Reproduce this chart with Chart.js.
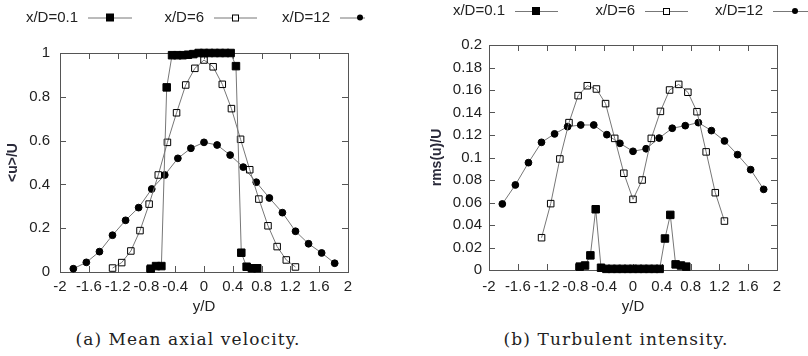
<!DOCTYPE html>
<html lang="en">
<head>
<meta charset="UTF-8">
<title>Jet profiles</title>
<script src="https://cdn.jsdelivr.net/npm/chart.js"></script>
<style>
  body { margin: 0; background: #fff; }
  #wrap { position: relative; width: 808px; height: 356px; overflow: hidden; }
  .panel { position: absolute; top: 0; height: 325px; }
  .cap {
    position: absolute; top: 329px; transform: translateX(-50%);
    font-family: "DejaVu Serif", serif; font-size: 17px; letter-spacing: 1.1px;
    color: #222; white-space: nowrap;
  }
</style>
</head>
<body>
<div id="wrap">
  <div class="panel" style="left:0;width:400px"><canvas id="meanChart"></canvas></div>
  <div class="panel" style="left:400px;width:408px"><canvas id="rmsChart"></canvas></div>
  <div class="cap" style="left:188px">(a) Mean axial velocity.</div>
  <div class="cap" style="left:616px">(b) Turbulent intensity.</div>
</div>
<script>
// y/D positions of each station
const yD01 = [-0.74, -0.666, -0.592, -0.518, -0.444, -0.37, -0.296, -0.222, -0.148, -0.074, 0,
              0.074, 0.148, 0.222, 0.296, 0.37, 0.444, 0.518, 0.592, 0.666, 0.74];
const yD6  = [-1.27, -1.143, -1.016, -0.889, -0.762, -0.635, -0.508, -0.381, -0.254, -0.127, 0,
              0.127, 0.254, 0.381, 0.508, 0.635, 0.762, 0.889, 1.016, 1.143, 1.27];
const yD12 = [-1.815, -1.634, -1.452, -1.271, -1.089, -0.908, -0.726, -0.545, -0.363, -0.182, 0,
              0.182, 0.363, 0.545, 0.726, 0.908, 1.089, 1.271, 1.452, 1.634, 1.815];

// (a) mean axial velocity <u>/U
const mean01 = [0.015, 0.027, 0.027, 0.843, 0.99, 0.99, 0.99, 0.992, 0.995, 1.0, 1.0,
                1.0, 1.0, 1.0, 1.0, 1.0, 0.94, 0.088, 0.024, 0.017, 0.017];
const mean6  = [0.018, 0.043, 0.096, 0.189, 0.31, 0.443, 0.592, 0.727, 0.854, 0.93, 0.968,
                0.937, 0.857, 0.746, 0.606, 0.467, 0.333, 0.211, 0.116, 0.055, 0.023];
const mean12 = [0.015, 0.044, 0.093, 0.168, 0.236, 0.294, 0.379, 0.443, 0.519, 0.565, 0.592,
                0.58, 0.534, 0.479, 0.41, 0.338, 0.271, 0.186, 0.129, 0.087, 0.04];

// (b) turbulent intensity rms(u)/U
const rms01 = [0.003, 0.004, 0.013, 0.054, 0.002, 0.001, 0.001, 0.001, 0.001, 0.001, 0.001,
               0.001, 0.001, 0.001, 0.001, 0.001, 0.028, 0.049, 0.005, 0.004, 0.003];
const rms6  = [0.0287, 0.059, 0.0987, 0.131, 0.155, 0.1638, 0.1609, 0.1479, 0.117, 0.086, 0.0628,
               0.080, 0.117, 0.141, 0.16, 0.165, 0.158, 0.1407, 0.105, 0.0687, 0.0435];
const rms12 = [0.0587, 0.0756, 0.0954, 0.1135, 0.121, 0.1274, 0.1289, 0.1289, 0.1203, 0.1126, 0.1055,
               0.1078, 0.1173, 0.126, 0.1283, 0.131, 0.1239, 0.1147, 0.1025, 0.0892, 0.0717];

const seriesNames = ['x/D=0.1', 'x/D=6', 'x/D=12'];
const xTicks = [-2, -1.6, -1.2, -0.8, -0.4, 0, 0.4, 0.8, 1.2, 1.6, 2];
const meanTicks = [0, 0.2, 0.4, 0.6, 0.8, 1];
const rmsTicks = [0, 0.02, 0.04, 0.06, 0.08, 0.1, 0.12, 0.14, 0.16, 0.18, 0.2];

const FONT = '"Liberation Sans", Arial, sans-serif';
const TXT = '#222';
const LINE = '#777';

// marker looks: filled square, open square, filled circle
const markers = [
  { pointStyle: 'rect', pointRadius: 5.3, pointBackgroundColor: '#000' },
  { pointStyle: 'rect', pointRadius: 4.6, pointBackgroundColor: 'rgba(0,0,0,0)' },
  { pointStyle: 'circle', pointRadius: 3.4, pointBackgroundColor: '#000' },
];

function pts(xs, ys) {
  return xs.map((x, i) => ({ x: x, y: ys[i] }));
}

function makeSets(cols) {
  return cols.map((c, i) => Object.assign({
    label: seriesNames[i],
    data: pts(c[0], c[1]),
    borderColor: LINE,
    borderWidth: 1,
    pointBorderColor: '#000',
    pointBorderWidth: 1,
    pointHoverRadius: 5,
    clip: false,
  }, markers[i]));
}

const fmt = v => String(+Number(v).toFixed(3));

// gnuplot style frame with inward ticks on all sides, plus the key on top
const framePlugin = {
  id: 'frame',
  beforeDatasetsDraw(chart) {
    const { ctx, chartArea: a, scales: { x, y } } = chart;
    const t = 6;
    ctx.save();
    ctx.strokeStyle = '#555';
    ctx.lineWidth = 1;
    ctx.beginPath();
    x.ticks.forEach(tk => {
      const px = Math.round(x.getPixelForValue(tk.value)) + 0.5;
      ctx.moveTo(px, a.bottom); ctx.lineTo(px, a.bottom - t);
      ctx.moveTo(px, a.top); ctx.lineTo(px, a.top + t);
    });
    y.ticks.forEach(tk => {
      const py = Math.round(y.getPixelForValue(tk.value)) + 0.5;
      ctx.moveTo(a.left, py); ctx.lineTo(a.left + t, py);
      ctx.moveTo(a.right, py); ctx.lineTo(a.right - t, py);
    });
    ctx.stroke();
    ctx.strokeRect(Math.round(a.left) + 0.5, Math.round(a.top) + 0.5,
      Math.round(a.right - a.left), Math.round(a.bottom - a.top));
    ctx.restore();
  },
  afterDraw(chart, args, opts) {
    const { ctx } = chart;
    ctx.save();
    ctx.font = '15px ' + FONT;
    ctx.textBaseline = 'middle';
    ctx.textAlign = 'right';
    opts.items.forEach((it, i) => {
      const ds = chart.data.datasets[i];
      ctx.fillStyle = TXT;
      ctx.fillText(ds.label, it.x0 - 10, opts.y);
      ctx.strokeStyle = LINE;
      ctx.lineWidth = 1;
      ctx.beginPath();
      ctx.moveTo(it.x0, opts.y + 0.5); ctx.lineTo(it.x1, opts.y + 0.5);
      ctx.stroke();
      ctx.strokeStyle = '#000';
      ctx.fillStyle = '#000';
      const m = it.m;
      if (i === 2) {
        ctx.beginPath(); ctx.arc(m, opts.y, 3, 0, Math.PI * 2); ctx.fill();
      } else if (i === 0) {
        ctx.fillRect(m - 4, opts.y - 4, 8, 8);
      } else {
        ctx.fillStyle = '#fff';
        ctx.fillRect(m - 3, opts.y - 3, 6, 6);
        ctx.strokeRect(m - 2.5, opts.y - 2.5, 6, 6);
      }
    });
    ctx.restore();
  }
};

function makeChart(id, cols, yTicks, yMax, yTitle, lay) {
  return new Chart(document.getElementById(id), {
    type: 'line',
    data: { datasets: makeSets(cols) },
    plugins: [framePlugin],
    options: {
      responsive: true,
      maintainAspectRatio: false,
      animation: false,
      layout: { padding: { left: 0, top: lay.top, right: lay.right, bottom: 9 } },
      plugins: {
        legend: { display: false },
        tooltip: { enabled: false },
        frame: { y: lay.legY, items: lay.leg },
      },
      scales: {
        x: {
          type: 'linear', min: -2, max: 2,
          afterBuildTicks: s => { s.ticks = xTicks.map(v => ({ value: v })); },
          afterFit: s => { s.height = lay.xH; },
          grid: { display: false, drawTicks: false },
          border: { display: false },
          ticks: { autoSkip: false, maxRotation: 0, padding: lay.xPad, color: TXT,
                   font: { family: FONT, size: 15 }, callback: fmt },
          title: { display: true, text: 'y/D', color: TXT, padding: 0,
                   font: { family: FONT, size: 15 } },
        },
        y: {
          type: 'linear', min: 0, max: yMax,
          afterBuildTicks: s => { s.ticks = yTicks.map(v => ({ value: v })); },
          afterFit: s => { s.width = lay.yW; },
          grid: { display: false, drawTicks: false },
          border: { display: false },
          ticks: { autoSkip: false, padding: lay.yPad, color: TXT,
                   font: { family: FONT, size: 15 }, callback: fmt },
          title: { display: true, text: yTitle, color: '#2a2a3a', padding: { top: lay.yTitlePad, bottom: 0 },
                   font: { family: FONT, size: 14, weight: 'bold' } },
        },
      },
    },
  });
}

makeChart('meanChart', [[yD01, mean01], [yD6, mean6], [yD12, mean12]], meanTicks, 1, '<u>/U', {
  top: 53, right: 52, xH: 44, xPad: 6, yW: 60, yPad: 10, yTitlePad: 5,
  legY: 17.5,
  leg: [{ x0: 88, x1: 132, m: 110 }, { x0: 214, x1: 257, m: 235 }, { x0: 340, x1: 365, m: 360 }],
});

makeChart('rmsChart', [[yD01, rms01], [yD6, rms6], [yD12, rms12]], rmsTicks, 0.2, 'rms(u)/U', {
  top: 45, right: 31, xH: 46, xPad: 8, yW: 89, yPad: 7, yTitlePad: 29,
  legY: 11,
  leg: [{ x0: 115, x1: 158, m: 136 }, { x0: 245, x1: 288, m: 266 }, { x0: 373, x1: 416, m: 395 }],
});
</script>
</body>
</html>
